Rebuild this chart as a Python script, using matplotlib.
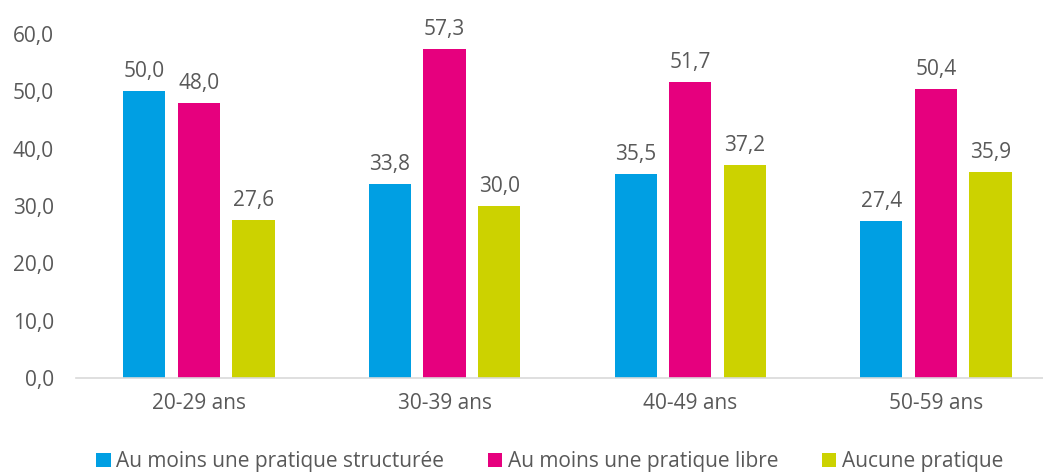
import matplotlib.pyplot as plt
import numpy as np

plt.rcParams['font.family'] = ['Open Sans', 'DejaVu Sans']

# tranches d'age
categories = ['20-29 ans', '30-39 ans', '40-49 ans', '50-59 ans']
structuree = [50.0, 33.8, 35.5, 27.4]
libre = [48.0, 57.3, 51.7, 50.4]
aucune = [27.6, 30.0, 37.2, 35.9]
series_names = ['Au moins une pratique structurée', 'Au moins une pratique libre', 'Aucune pratique']
colors = ['#009FE3', '#E6007E', '#CCD200']
text_col = '#595959'
fs = 15

fig = plt.figure(figsize=(10.43, 4.72), dpi=100)
ax = fig.add_axes([76 / 1043, 1 - 378 / 472, 1 - 76 / 1043, (378 - 34) / 472])

x = np.arange(len(categories))
width = 0.172
offset = 0.222
for i, (vals, name, col) in enumerate(zip([structuree, libre, aucune], series_names, colors)):
    bars = ax.bar(x + (i - 1) * offset, vals, width, color=col, label=name)
    for b, v in zip(bars, vals):
        ax.text(b.get_x() + b.get_width() / 2, v + 3.4, f'{v:.1f}'.replace('.', ','),
                ha='center', va='center', fontsize=fs, color=text_col, clip_on=False)

ax.set_xlim(-0.5, 3.436)
ax.set_ylim(0, 60)
ax.set_yticks(np.arange(0, 61, 10))
ax.set_yticklabels([f'{t:.1f}'.replace('.', ',') for t in np.arange(0, 61, 10)])
ax.set_xticks(x)
ax.set_xticklabels(categories)
ax.tick_params(axis='both', length=0, labelsize=fs, colors=text_col)
ax.tick_params(axis='x', pad=11)
ax.tick_params(axis='y', pad=16)
for s in ['top', 'right', 'left']:
    ax.spines[s].set_visible(False)
ax.spines['bottom'].set_color('#D9D9D9')
ax.spines['bottom'].set_linewidth(1.2)

fig.legend(loc='lower center', bbox_to_anchor=(0.527, -0.04), ncol=3, frameon=False,
           fontsize=fs, labelcolor=text_col, handlelength=0.7, handleheight=0.7,
           handletextpad=0.25, columnspacing=2.1)

fig.savefig('out.png', dpi=100)
